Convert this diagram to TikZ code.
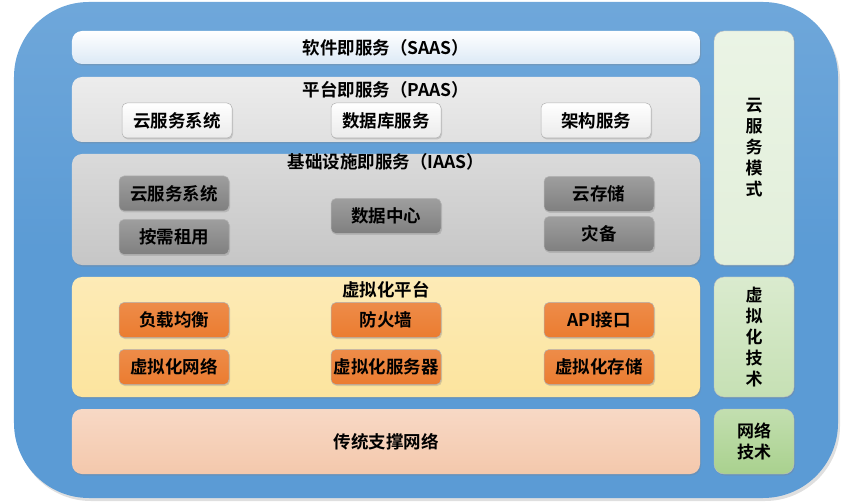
\documentclass[tikz,border=0pt]{standalone}
\usepackage{fontspec}
\setmainfont{Noto Sans CJK SC}[BoldFont={Noto Sans CJK SC Bold}]
\usetikzlibrary{shadows}
\definecolor{outerblue}{HTML}{5B9BD5}
\definecolor{saasc}{HTML}{DCE9F6}
\definecolor{paasc}{HTML}{E0E0E0}
\definecolor{iaasc}{HTML}{C6C6C6}
\definecolor{yellowc}{HTML}{FCE49E}
\definecolor{orangec}{HTML}{EB7C30}
\definecolor{peachc}{HTML}{F4C8AC}
\definecolor{greenA}{HTML}{E2EFDA}
\definecolor{greenB}{HTML}{C6E0B4}
\definecolor{greenC}{HTML}{A9D18E}
\begin{document}
\begin{tikzpicture}[x=1bp,y=-1bp,
  every node/.style={font=\bfseries\fontsize{17.5bp}{21bp}\selectfont, text=black, inner sep=0pt},
  shd/.style={drop shadow={opacity=0.3,shadow xshift=1bp,shadow yshift=-1.5bp}},
  outerbox/.style={rounded corners=75bp, top color=outerblue!88!white, bottom color=outerblue, middle color=outerblue, shading angle=0,
    drop shadow={opacity=0.25,shadow xshift=2bp,shadow yshift=-3bp}},
  layerbox/.style={rounded corners=10bp, shd, minimum width=628bp},
  sidebox/.style={rounded corners=10bp, shd, minimum width=80bp, align=center, draw=black!25, line width=0.4bp,
    font=\bfseries\fontsize{17bp}{21bp}\selectfont},
  subbox/.style={rounded corners=5bp, minimum width=110bp, minimum height=35bp, draw=black!30, line width=0.5bp, shd},
  psub/.style={subbox, top color=white, bottom color=black!8},
  isub/.style={subbox, top color=black!38, bottom color=black!50},
  osub/.style={subbox, top color=orangec!88!white, bottom color=orangec},
]
\useasboundingbox (0,0) rectangle (858,504);
% outer container
\node[outerbox, minimum width=824bp, minimum height=496bp] (bg) at (426,250) {};
% layers
\node[layerbox, minimum height=33bp, top color=white, bottom color=saasc] (saas) at (386,47.5) {软件即服务（SAAS）};
\node[layerbox, minimum height=65bp, top color=paasc!60!white, bottom color=paasc] (paas) at (386,109.5) {};
\node (paast) at (386,90) {平台即服务（PAAS）};
\node[layerbox, minimum height=111bp, top color=iaasc!65!white, bottom color=iaasc] (iaas) at (386,209.5) {};
\node (iaast) at (386,162) {基础设施即服务（IAAS）};
\node[layerbox, minimum height=120bp, top color=yellowc!75!white, bottom color=yellowc] (virt) at (386,337) {};
\node (virtt) at (386,290) {虚拟化平台};
\node[layerbox, minimum height=65bp, top color=peachc!70!white, bottom color=peachc] (trad) at (386,441.5) {传统支撑网络};
% side column
\node[sidebox, minimum height=234bp, top color=greenA!70!white, bottom color=greenA] (cloudmode) at (754,148) {云\\服\\务\\模\\式};
\node[sidebox, minimum height=120bp, top color=greenB!65!white, bottom color=greenB] (virttech) at (754,337) {虚\\拟\\化\\技\\术};
\node[sidebox, minimum height=65bp, top color=greenC!70!white, bottom color=greenC] (nettech) at (754,441.5) {网络\\技术};
% PAAS items
\node[psub] (p1) at (177,120.5) {云服务系统};
\node[psub] (p2) at (386,120.5) {数据库服务};
\node[psub] (p3) at (596,120.5) {架构服务};
% IAAS items
\node[isub] (i1) at (174,193.5) {云服务系统};
\node[isub] (i2) at (174,237) {按需租用};
\node[isub] (i3) at (386,216) {数据中心};
\node[isub] (i4) at (599,194) {云存储};
\node[isub] (i5) at (599,234) {灾备};
% virtualization items
\node[osub] (v1) at (174,320) {负载均衡};
\node[osub] (v2) at (174,367) {虚拟化网络};
\node[osub] (v3) at (386,320) {防火墙};
\node[osub] (v4) at (386,367) {虚拟化服务器};
\node[osub] (v5) at (599,320) {API接口};
\node[osub] (v6) at (599,367) {虚拟化存储};
\end{tikzpicture}
\end{document}
